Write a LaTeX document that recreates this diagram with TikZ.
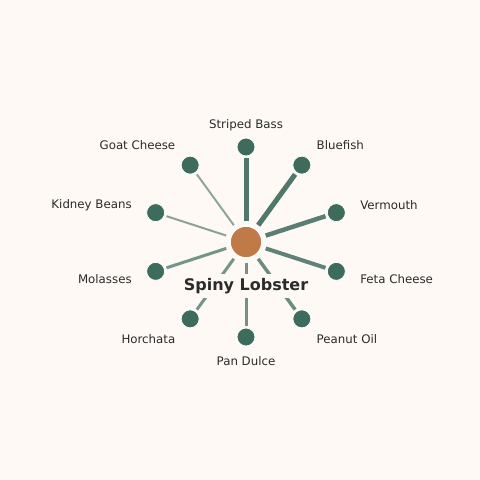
\documentclass[tikz,border=0pt]{standalone}
\usepackage{fontspec}
\setmainfont{DejaVu Sans}
\usetikzlibrary{positioning}
\definecolor{bgCream}{HTML}{FEF9F5}
\definecolor{leafGreen}{HTML}{3D6B5C}
\definecolor{hubOrange}{HTML}{C07A48}
\definecolor{labelInk}{HTML}{2B2B2B}
\newcommand{\leafR}{95}

\begin{document}
\begin{tikzpicture}[x=1pt, y=1pt,
	hub/.style={circle, fill=hubOrange, draw=white, line width=1.5pt, minimum size=32pt, inner sep=0pt},
	leaf/.style={circle, fill=leafGreen, draw=white, line width=0.8pt, minimum size=18pt, inner sep=0pt},
	leaflabel/.style={text=labelInk, font=\fontsize{11.8}{13}\selectfont, inner sep=0pt},
	spoke/.style={leafGreen, shorten <=4pt, shorten >=2pt}]
	\fill[bgCream] (0,0) rectangle (480,480);
	\useasboundingbox (0,0) rectangle (480,480);
	\begin{scope}[shift={(246,238)}]
		\node[hub] (hub) at (0,0) {};
		% angle / name / text / width / opacity / anchor / label radius
		\foreach \ang/\nm/\txt/\w/\op/\anc/\lr in {
			90/sb/Striped Bass/5/0.9/center/117,
			54/bf/Bluefish/5/0.9/west/120,
			18/vm/Vermouth/4.5/0.86/west/120,
			-18/fc/Feta Cheese/4/0.82/west/120,
			-54/po/Peanut Oil/3.5/0.76/west/120,
			-90/pd/Pan Dulce/3/0.72/center/119,
			-126/ho/Horchata/3/0.7/east/120,
			-162/mo/Molasses/3/0.7/east/120,
			162/kb/Kidney Beans/2/0.6/east/120,
			126/gc/Goat Cheese/2/0.58/east/120}{
			\node[leaf] (\nm) at (\ang:\leafR) {};
			\draw[spoke, line width=\w pt, opacity=\op] (hub) -- (\nm);
			\node[leaflabel, anchor=\anc] (\nm-label) at (\ang:\lr) {\txt};
		}
		\node[fill=bgCream, text=labelInk, inner xsep=4pt, inner ysep=4pt,
			font=\bfseries\fontsize{16}{18}\selectfont] (hub-label) at (0,-44) {Spiny Lobster};
	\end{scope}
\end{tikzpicture}
\end{document}
